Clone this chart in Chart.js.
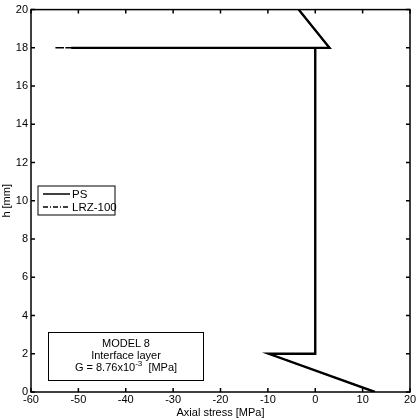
<!DOCTYPE html>
<html>
<head>
<meta charset="utf-8">
<script src="https://cdn.jsdelivr.net/npm/chart.js@4.4.0/dist/chart.umd.min.js"></script>
<style>
  html, body { margin: 0; padding: 0; background: #fff; }
  #wrap { position: relative; width: 420px; height: 420px; }
  #note {
    position: absolute; left: 48px; top: 332px; width: 154px; height: 43px;
    border: 1.5px solid #000; font: 11px "Liberation Sans", Arial, sans-serif;
    text-align: center; line-height: 12px; padding-top: 4px; box-sizing: content-box;
  }
  #note sup { font-size: 8px; line-height: 0; }
</style>
</head>
<body>
<div id="wrap">
  <canvas id="chart" width="420" height="420"></canvas>
  <div id="note">MODEL 8<br>Interface layer<br>G = 8.76x10<sup>-3</sup>&nbsp; [MPa]</div>
</div>
<script>
// values
const psX = [12.6, -9.8, 0, 0, -51.5, 3, -3.5];
const psY = [0, 2, 2, 18, 18, 18, 20];
const lrzX = [12.6, -9.8, 0, 0, -55, 3, -3.5];
const lrzY = [0, 2, 2, 18, 18, 18, 20];
const seriesNames = ['PS', 'LRZ-100'];
const xTicks = [-60, -50, -40, -30, -20, -10, 0, 10, 20];
const yTicks = [0, 2, 4, 6, 8, 10, 12, 14, 16, 18, 20];

const FONT = '"Liberation Sans", Arial, sans-serif';
const toPoints = (xs, ys) => xs.map((x, i) => ({ x, y: ys[i] }));

// box + inward ticks on all four sides, matlab style
const frameTicks = {
    id: 'frameTicks',
    afterDatasetsDraw(chart) {
        const { ctx, chartArea: a, scales } = chart;
        ctx.save();
        ctx.strokeStyle = '#000';
        ctx.lineWidth = 1.5;
        ctx.strokeRect(a.left, a.top, a.right - a.left, a.bottom - a.top);
        const len = 4;
        ctx.beginPath();
        xTicks.forEach(v => {
            const px = scales.x.getPixelForValue(v);
            ctx.moveTo(px, a.bottom); ctx.lineTo(px, a.bottom - len);
            ctx.moveTo(px, a.top); ctx.lineTo(px, a.top + len);
        });
        yTicks.forEach(v => {
            const py = scales.y.getPixelForValue(v);
            ctx.moveTo(a.left, py); ctx.lineTo(a.left + len, py);
            ctx.moveTo(a.right, py); ctx.lineTo(a.right - len, py);
        });
        ctx.stroke();
        ctx.restore();
    }
};

// legend box inside the axes
const boxLegend = {
    id: 'boxLegend',
    afterDraw(chart) {
        const { ctx } = chart;
        const x0 = 38, y0 = 186, w = 77, h = 29;
        ctx.save();
        ctx.fillStyle = '#fff';
        ctx.fillRect(x0, y0, w, h);
        ctx.strokeStyle = '#000';
        ctx.lineWidth = 1;
        ctx.strokeRect(x0, y0, w, h);
        ctx.font = '11.5px ' + FONT;
        ctx.textBaseline = 'middle';
        chart.data.datasets.forEach((ds, i) => {
            const y = y0 + 8 + i * 13;
            ctx.beginPath();
            ctx.setLineDash(ds.borderDash || []);
            ctx.lineWidth = 1.5;
            ctx.moveTo(x0 + 5, y);
            ctx.lineTo(x0 + 32, y);
            ctx.stroke();
            ctx.setLineDash([]);
            ctx.fillStyle = '#000';
            ctx.fillText(ds.label, x0 + 34, y + 1);
        });
        ctx.restore();
    }
};

new Chart(document.getElementById('chart'), {
    type: 'scatter',
    data: {
        datasets: [
            {
                label: seriesNames[0],
                data: toPoints(psX, psY),
                showLine: true,
                borderColor: '#000',
                borderWidth: 2.4,
                pointRadius: 0,
                tension: 0
            },
            {
                label: seriesNames[1],
                data: toPoints(lrzX, lrzY),
                showLine: true,
                borderColor: '#000',
                borderWidth: 1.5,
                borderDash: [5, 2, 1, 2],
                pointRadius: 0,
                tension: 0
            }
        ]
    },
    options: {
        responsive: false,
        animation: false,
        layout: { padding: { top: 9, right: 10 } },
        plugins: { legend: { display: false }, tooltip: { enabled: false } },
        scales: {
            x: {
                type: 'linear',
                min: -60, max: 20,
                afterBuildTicks: s => { s.ticks = xTicks.map(v => ({ value: v })); },
                afterFit: s => { s.height = 28; },
                grid: { display: false, drawTicks: false },
                border: { display: false },
                ticks: { color: '#000', padding: 1, maxRotation: 0, font: { family: FONT, size: 11 } },
                title: { display: true, text: 'Axial stress [MPa]', color: '#000', padding: 0, font: { family: FONT, size: 11 } }
            },
            y: {
                type: 'linear',
                min: 0, max: 20,
                afterBuildTicks: s => { s.ticks = yTicks.map(v => ({ value: v })); },
                afterFit: s => { s.width = 31; },
                grid: { display: false, drawTicks: false },
                border: { display: false },
                ticks: { color: '#000', padding: 3, font: { family: FONT, size: 11 } },
                title: { display: true, text: 'h [mm]', color: '#000', padding: 0, font: { family: FONT, size: 11 } }
            }
        }
    },
    plugins: [frameTicks, boxLegend]
});
</script>
</body>
</html>
